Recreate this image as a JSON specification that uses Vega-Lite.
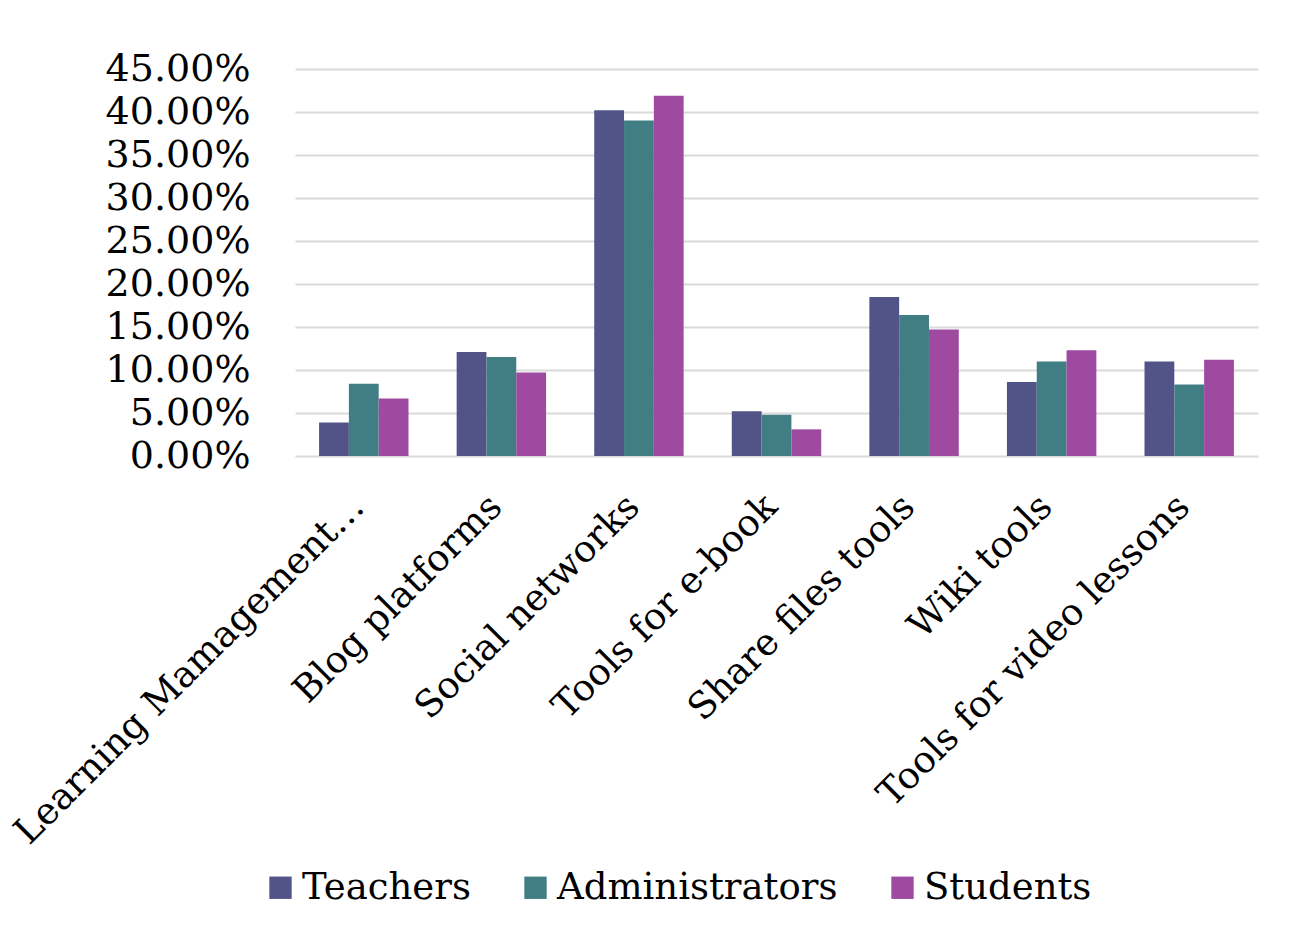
{
  "$schema": "https://vega.github.io/schema/vega-lite/v6.json",
  "autosize": "none",
  "width": 963,
  "height": 387,
  "padding": {"left": 295, "top": 69, "right": 49, "bottom": 474},
  "background": "white",
  "data": {
    "values": [
      {"tool": "Learning Mamagement…", "group": "Teachers", "value": 0.039},
      {"tool": "Learning Mamagement…", "group": "Administrators", "value": 0.084},
      {"tool": "Learning Mamagement…", "group": "Students", "value": 0.067},
      {"tool": "Blog platforms", "group": "Teachers", "value": 0.121},
      {"tool": "Blog platforms", "group": "Administrators", "value": 0.115},
      {"tool": "Blog platforms", "group": "Students", "value": 0.097},
      {"tool": "Social networks", "group": "Teachers", "value": 0.402},
      {"tool": "Social networks", "group": "Administrators", "value": 0.390},
      {"tool": "Social networks", "group": "Students", "value": 0.419},
      {"tool": "Tools for e-book", "group": "Teachers", "value": 0.052},
      {"tool": "Tools for e-book", "group": "Administrators", "value": 0.048},
      {"tool": "Tools for e-book", "group": "Students", "value": 0.031},
      {"tool": "Share files tools", "group": "Teachers", "value": 0.185},
      {"tool": "Share files tools", "group": "Administrators", "value": 0.164},
      {"tool": "Share files tools", "group": "Students", "value": 0.147},
      {"tool": "Wiki tools", "group": "Teachers", "value": 0.086},
      {"tool": "Wiki tools", "group": "Administrators", "value": 0.110},
      {"tool": "Wiki tools", "group": "Students", "value": 0.123},
      {"tool": "Tools for video lessons", "group": "Teachers", "value": 0.110},
      {"tool": "Tools for video lessons", "group": "Administrators", "value": 0.083},
      {"tool": "Tools for video lessons", "group": "Students", "value": 0.112}
    ]
  },
  "mark": {"type": "bar"},
  "encoding": {
    "x": {
      "field": "tool",
      "type": "nominal",
      "sort": null,
      "scale": {"paddingInner": 0.35, "paddingOuter": 0.175},
      "axis": {
        "title": null,
        "labelAngle": -45,
        "labelAlign": "right",
        "labelBaseline": "top",
        "labelFont": "DejaVu Serif",
        "labelFontSize": 37,
        "labelColor": "#000000",
        "labelLimit": 0,
        "labelPadding": 32,
        "labelOffset": -18,
        "ticks": false,
        "domain": false
      }
    },
    "xOffset": {
      "field": "group",
      "type": "nominal",
      "sort": ["Teachers", "Administrators", "Students"],
      "scale": {"paddingInner": 0, "paddingOuter": 0}
    },
    "y": {
      "field": "value",
      "type": "quantitative",
      "scale": {"domain": [0, 0.45], "nice": false},
      "axis": {
        "title": null,
        "format": ".2%",
        "values": [0, 0.05, 0.1, 0.15, 0.2, 0.25, 0.3, 0.35, 0.4, 0.45],
        "labelFont": "DejaVu Serif",
        "labelFontSize": 38,
        "labelColor": "#000000",
        "labelPadding": 45,
        "ticks": false,
        "domain": false,
        "gridColor": "#d9d9d9",
        "gridWidth": 2
      }
    },
    "color": {
      "field": "group",
      "type": "nominal",
      "sort": ["Teachers", "Administrators", "Students"],
      "scale": {
        "domain": ["Teachers", "Administrators", "Students"],
        "range": ["#525488", "#417e84", "#9e4aa0"]
      },
      "legend": {
        "title": null,
        "orient": "none",
        "direction": "horizontal",
        "legendX": -33,
        "legendY": 800,
        "symbolType": "square",
        "symbolSize": 500,
        "symbolStrokeWidth": 0,
        "labelFont": "DejaVu Serif",
        "labelFontSize": 37,
        "labelColor": "#000000",
        "labelOffset": 3,
        "columnPadding": 46,
        "labelLimit": 0
      }
    }
  },
  "config": {
    "view": {"stroke": null}
  }
}
